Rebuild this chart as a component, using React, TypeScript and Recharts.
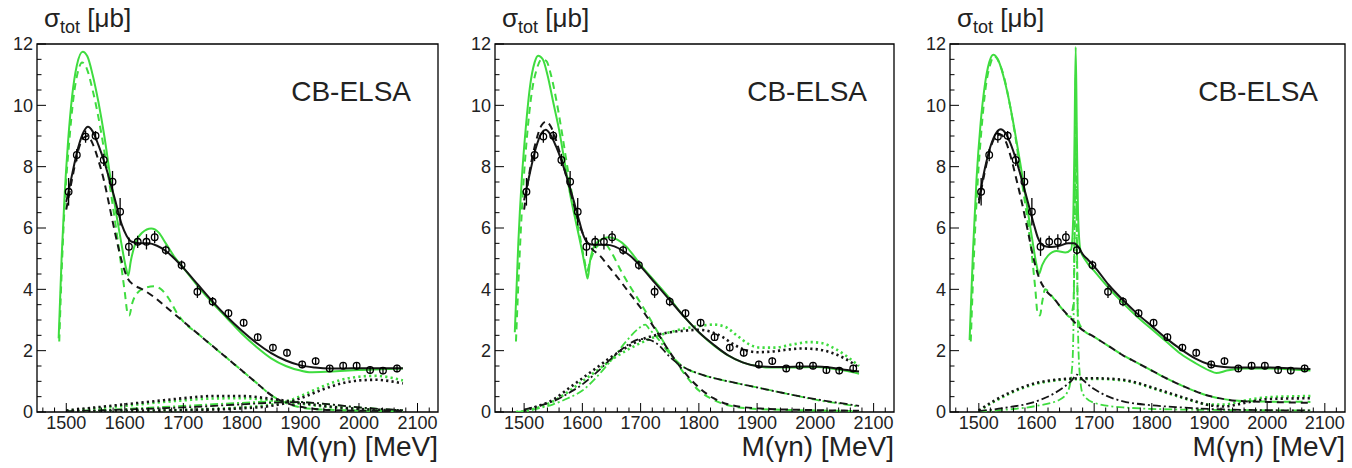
import React from "react";
import {
  ComposedChart,
  Line,
  Scatter,
  ErrorBar,
  XAxis,
  YAxis,
  ReferenceArea,
} from "recharts";

type Pt = [number, number];

// axes
const xMin = 1450;
const xMax = 2135;
const xMajorLabels = [1500, 1600, 1700, 1800, 1900, 2000, 2100];
const xMinorTicks = [
  1460, 1480, 1500, 1520, 1540, 1560, 1580, 1600, 1620, 1640, 1660, 1680, 1700,
  1720, 1740, 1760, 1780, 1800, 1820, 1840, 1860, 1880, 1900, 1920, 1940, 1960,
  1980, 2000, 2020, 2040, 2060, 2080, 2100, 2120,
];
const yMajorLabels = [0, 2, 4, 6, 8, 10, 12];
const yMinorTicks = [
  0, 0.5, 1, 1.5, 2, 2.5, 3, 3.5, 4, 4.5, 5, 5.5, 6, 6.5, 7, 7.5, 8, 8.5, 9,
  9.5, 10, 10.5, 11, 11.5, 12,
];

// CB-ELSA data points (same in every panel)
const dataMass = [
  1504, 1518, 1533, 1550, 1564, 1579, 1592, 1607, 1622, 1637, 1651, 1670, 1697,
  1724, 1750, 1777, 1803, 1827, 1853, 1877, 1903, 1926, 1950, 1973, 1996, 2019,
  2041, 2065,
];
const dataSigma = [
  7.18, 8.38, 8.98, 9.01, 8.22, 7.51, 6.53, 5.39, 5.55, 5.55, 5.7, 5.28, 4.79,
  3.92, 3.6, 3.22, 2.91, 2.44, 2.1, 1.93, 1.55, 1.66, 1.42, 1.51, 1.51, 1.37,
  1.35, 1.42,
];
const dataErr = [
  0.45, 0.2, 0.2, 0.15, 0.2, 0.35, 0.45, 0.3, 0.2, 0.25, 0.2, 0.15, 0.15, 0.2,
  0.15, 0.12, 0.12, 0.12, 0.12, 0.12, 0.12, 0.12, 0.1, 0.1, 0.12, 0.12, 0.12,
  0.12,
];

// ---- panel 1 ----
const p1BlackSolid: Pt[] = [
  [1500, 6.85], [1510, 7.75], [1520, 8.6], [1530, 9.15], [1537, 9.3], [1545, 9.15],
  [1555, 8.7], [1565, 8.15], [1575, 7.5], [1585, 6.8], [1595, 6.1], [1603, 5.75],
  [1612, 5.55], [1625, 5.5], [1640, 5.5], [1655, 5.42], [1670, 5.25], [1685, 5.0],
  [1700, 4.7], [1725, 4.15], [1750, 3.6], [1775, 3.1], [1800, 2.65], [1825, 2.25],
  [1850, 1.92], [1875, 1.68], [1900, 1.52], [1925, 1.45], [1950, 1.42], [1975, 1.42],
  [2000, 1.43], [2025, 1.43], [2050, 1.43], [2075, 1.43],
];
const p1GreenSolid: Pt[] = [
  [1487, 2.4], [1492, 5.0], [1497, 7.0], [1503, 8.8], [1510, 10.3], [1518, 11.3],
  [1528, 11.75], [1536, 11.6], [1545, 11.0], [1555, 10.1], [1565, 9.0], [1575, 7.7],
  [1585, 6.5], [1595, 5.4], [1602, 4.7], [1606, 4.45], [1610, 4.9], [1618, 5.5],
  [1630, 5.85], [1645, 5.98], [1658, 5.85], [1670, 5.5], [1685, 5.05], [1700, 4.7],
  [1725, 4.1], [1750, 3.55], [1775, 3.05], [1800, 2.55], [1825, 2.12], [1850, 1.75],
  [1875, 1.5], [1900, 1.35], [1915, 1.3], [1950, 1.32], [2000, 1.37], [2050, 1.4],
  [2075, 1.42],
];
const p1BlackDashed: Pt[] = [
  [1500, 6.6], [1510, 7.6], [1520, 8.5], [1530, 8.95], [1537, 9.0], [1545, 8.75],
  [1555, 8.2], [1565, 7.5], [1575, 6.6], [1585, 5.7], [1595, 4.9], [1605, 4.35],
  [1615, 4.15], [1630, 4.0], [1650, 3.75], [1675, 3.35], [1700, 2.95], [1725, 2.55],
  [1750, 2.15], [1775, 1.75], [1800, 1.35], [1825, 0.95], [1850, 0.55], [1875, 0.3],
  [1900, 0.17], [1925, 0.1], [1975, 0.05], [2075, 0.03],
];
const p1GreenDashed: Pt[] = [
  [1488, 2.3], [1493, 5.0], [1498, 7.0], [1505, 8.8], [1512, 10.2], [1520, 11.1],
  [1527, 11.4], [1535, 11.2], [1545, 10.5], [1555, 9.6], [1565, 8.5], [1575, 7.3],
  [1585, 6.0], [1593, 4.9], [1600, 3.9], [1605, 3.2], [1608, 3.15], [1612, 3.5],
  [1620, 3.85], [1635, 4.05], [1650, 4.1], [1662, 4.0], [1675, 3.7], [1690, 3.2],
  [1700, 2.95], [1725, 2.55], [1750, 2.15], [1775, 1.75], [1800, 1.35], [1825, 0.95],
  [1850, 0.55], [1875, 0.3], [1900, 0.15], [1950, 0.07], [2075, 0.03],
];
const p1BlackDotRise: Pt[] = [
  [1500, 0.02], [1600, 0.03], [1700, 0.06], [1800, 0.12], [1850, 0.2], [1880, 0.32],
  [1910, 0.52], [1940, 0.75], [1970, 0.93], [2000, 1.03], [2030, 1.05], [2055, 1.0],
  [2075, 0.93],
];
const p1GreenDotRise: Pt[] = [
  [1500, 0.02], [1600, 0.03], [1700, 0.07], [1800, 0.15], [1850, 0.24], [1880, 0.37],
  [1910, 0.6], [1940, 0.85], [1970, 1.05], [2000, 1.15], [2030, 1.18], [2055, 1.12],
  [2075, 1.03],
];
const p1BlackDotBroad: Pt[] = [
  [1500, 0.05], [1550, 0.15], [1600, 0.25], [1650, 0.35], [1700, 0.45], [1750, 0.52],
  [1800, 0.52], [1850, 0.43], [1900, 0.3], [1950, 0.18], [2000, 0.1], [2075, 0.05],
];
const p1GreenDotBroad: Pt[] = [
  [1500, 0.04], [1550, 0.12], [1600, 0.2], [1650, 0.3], [1700, 0.38], [1750, 0.44],
  [1800, 0.45], [1850, 0.38], [1900, 0.27], [1950, 0.16], [2000, 0.09], [2075, 0.04],
];
const p1BlackDashDot: Pt[] = [
  [1500, 0.02], [1600, 0.08], [1700, 0.15], [1800, 0.25], [1850, 0.3], [1900, 0.32],
  [1950, 0.25], [2000, 0.15], [2075, 0.06],
];
const p1GreenDashDot: Pt[] = [
  [1500, 0.02], [1600, 0.1], [1700, 0.2], [1800, 0.3], [1870, 0.35], [1920, 0.3],
  [2000, 0.15], [2075, 0.05],
];

// ---- panel 2 ----
const p2BlackSolid: Pt[] = [
  [1500, 6.9], [1510, 7.8], [1520, 8.6], [1530, 9.1], [1537, 9.2], [1545, 9.05],
  [1555, 8.65], [1565, 8.15], [1575, 7.55], [1585, 6.9], [1595, 6.2], [1603, 5.7],
  [1610, 5.5], [1620, 5.45], [1640, 5.45], [1655, 5.4], [1670, 5.25], [1685, 5.05],
  [1700, 4.75], [1725, 4.2], [1750, 3.65], [1775, 3.1], [1800, 2.6], [1825, 2.2],
  [1850, 1.85], [1875, 1.62], [1900, 1.5], [1925, 1.47], [1950, 1.47], [1975, 1.48],
  [2000, 1.48], [2025, 1.45], [2050, 1.38], [2075, 1.32],
];
const p2GreenSolid: Pt[] = [
  [1484, 2.6], [1490, 5.5], [1496, 7.6], [1503, 9.3], [1510, 10.6], [1518, 11.4],
  [1524, 11.62], [1532, 11.5], [1540, 11.0], [1550, 10.1], [1560, 9.2], [1570, 8.1],
  [1580, 7.0], [1590, 6.1], [1600, 5.2], [1606, 4.6], [1609, 4.35], [1613, 4.9],
  [1620, 5.4], [1630, 5.6], [1645, 5.7], [1660, 5.62], [1675, 5.4], [1690, 5.05],
  [1700, 4.8], [1725, 4.25], [1750, 3.7], [1775, 3.1], [1800, 2.6], [1825, 2.18],
  [1850, 1.85], [1875, 1.62], [1900, 1.5], [1920, 1.45], [1950, 1.45], [2000, 1.47],
  [2025, 1.43], [2050, 1.35], [2075, 1.25],
];
const p2BlackDashed: Pt[] = [
  [1500, 6.6], [1510, 7.9], [1520, 8.8], [1530, 9.35], [1538, 9.47], [1546, 9.3],
  [1555, 8.85], [1565, 8.2], [1575, 7.5], [1585, 6.8], [1595, 6.1], [1605, 5.65],
  [1615, 5.35], [1630, 5.1], [1645, 4.75], [1660, 4.4], [1680, 3.9], [1700, 3.4],
  [1725, 2.7], [1750, 1.95], [1775, 1.3], [1800, 0.8], [1825, 0.45], [1850, 0.25],
  [1900, 0.12], [2000, 0.06], [2075, 0.04],
];
const p2GreenDashed: Pt[] = [
  [1486, 2.3], [1492, 5.0], [1498, 7.2], [1505, 9.0], [1513, 10.4], [1522, 11.2],
  [1530, 11.5], [1538, 11.45], [1546, 11.0], [1555, 10.2], [1565, 9.1], [1575, 7.9],
  [1585, 6.8], [1595, 5.8], [1603, 5.0], [1608, 4.6], [1613, 4.9], [1620, 5.25],
  [1630, 5.45], [1640, 5.45], [1650, 5.2], [1665, 4.65], [1680, 4.15], [1700, 3.55],
  [1725, 2.75], [1750, 1.95], [1775, 1.25], [1800, 0.7], [1825, 0.4], [1850, 0.22],
  [1900, 0.1], [2000, 0.05], [2075, 0.03],
];
const p2BlackDashDot: Pt[] = [
  [1500, 0.08], [1525, 0.2], [1550, 0.35], [1575, 0.6], [1600, 0.9], [1625, 1.3],
  [1650, 1.75], [1675, 2.15], [1700, 2.38], [1715, 2.35], [1730, 2.2], [1750, 1.8],
  [1775, 1.45], [1800, 1.25], [1850, 1.0], [1900, 0.8], [1950, 0.6], [2000, 0.42],
  [2050, 0.27], [2075, 0.2],
];
const p2GreenDashDot: Pt[] = [
  [1486, 0.0], [1500, 0.03], [1525, 0.12], [1550, 0.25], [1575, 0.45], [1600, 0.7],
  [1625, 1.15], [1650, 1.7], [1675, 2.3], [1695, 2.7], [1708, 2.85], [1715, 2.7],
  [1725, 2.5], [1750, 1.9], [1775, 1.45], [1800, 1.25], [1850, 1.0], [1900, 0.8],
  [1950, 0.6], [2000, 0.4], [2050, 0.25], [2075, 0.18],
];
const p2BlackDotted: Pt[] = [
  [1500, 0.05], [1525, 0.2], [1550, 0.4], [1575, 0.75], [1600, 1.1], [1625, 1.45],
  [1650, 1.8], [1675, 2.1], [1700, 2.35], [1725, 2.5], [1750, 2.6], [1775, 2.65],
  [1800, 2.68], [1820, 2.62], [1840, 2.45], [1860, 2.2], [1880, 2.02], [1900, 1.95],
  [1925, 1.97], [1950, 2.03], [1975, 2.07], [2000, 2.05], [2025, 1.95], [2050, 1.75],
  [2075, 1.45],
];
const p2GreenDotted: Pt[] = [
  [1486, 0.0], [1500, 0.03], [1525, 0.15], [1550, 0.35], [1575, 0.65], [1600, 1.0],
  [1625, 1.35], [1650, 1.7], [1675, 2.0], [1700, 2.25], [1725, 2.45], [1750, 2.6],
  [1775, 2.72], [1800, 2.8], [1825, 2.85], [1845, 2.78], [1865, 2.5], [1885, 2.22],
  [1905, 2.1], [1930, 2.1], [1960, 2.2], [1990, 2.28], [2010, 2.25], [2035, 2.05],
  [2055, 1.8], [2075, 1.5],
];

// ---- panel 3 ----
const p3BlackSolid: Pt[] = [
  [1500, 6.9], [1510, 7.9], [1520, 8.65], [1530, 9.1], [1538, 9.22], [1546, 9.1],
  [1555, 8.75], [1565, 8.2], [1575, 7.55], [1585, 6.85], [1595, 6.15], [1603, 5.65],
  [1612, 5.42], [1625, 5.38], [1640, 5.42], [1655, 5.5], [1665, 5.5], [1672, 5.4],
  [1680, 5.15], [1690, 4.95], [1700, 4.75], [1725, 4.15], [1750, 3.65], [1775, 3.2],
  [1800, 2.8], [1825, 2.4], [1850, 2.05], [1875, 1.75], [1900, 1.55], [1925, 1.47],
  [1950, 1.45], [2000, 1.45], [2050, 1.42], [2075, 1.4],
];
const p3GreenSolid: Pt[] = [
  [1484, 2.35], [1490, 5.3], [1496, 7.6], [1503, 9.4], [1510, 10.6], [1518, 11.4],
  [1525, 11.65], [1533, 11.5], [1542, 11.0], [1552, 10.2], [1562, 9.2], [1572, 8.1],
  [1582, 6.9], [1592, 5.7], [1600, 4.8], [1604, 4.5], [1610, 4.8], [1620, 5.1],
  [1635, 5.25], [1650, 5.2], [1660, 5.3], [1664, 6.5], [1666, 9.0], [1668, 11.9],
  [1670, 9.0], [1672, 6.5], [1676, 5.3], [1685, 4.95], [1700, 4.6], [1725, 4.05],
  [1750, 3.55], [1775, 3.1], [1800, 2.7], [1825, 2.3], [1850, 1.9], [1875, 1.6],
  [1900, 1.35], [1912, 1.27], [1930, 1.35], [1960, 1.42], [2000, 1.42], [2050, 1.38],
  [2075, 1.35],
];
const p3BlackDashed: Pt[] = [
  [1500, 6.8], [1510, 7.8], [1520, 8.6], [1530, 9.0], [1538, 9.05], [1546, 8.85],
  [1555, 8.35], [1565, 7.6], [1575, 6.8], [1585, 5.9], [1595, 5.0], [1605, 4.35],
  [1615, 4.0], [1630, 3.7], [1645, 3.35], [1660, 3.05], [1675, 2.75], [1700, 2.45],
  [1725, 2.15], [1750, 1.85], [1775, 1.6], [1800, 1.35], [1825, 1.1], [1850, 0.88],
  [1875, 0.68], [1900, 0.52], [1925, 0.42], [1950, 0.36], [2000, 0.33], [2075, 0.3],
];
const p3GreenDashed: Pt[] = [
  [1486, 2.3], [1492, 5.3], [1498, 7.5], [1505, 9.3], [1512, 10.6], [1520, 11.35],
  [1527, 11.6], [1535, 11.4], [1544, 10.9], [1554, 10.0], [1564, 8.9], [1574, 7.6],
  [1584, 6.3], [1592, 5.1], [1598, 4.0], [1602, 3.2], [1606, 3.15], [1610, 3.6],
  [1615, 4.0], [1630, 3.7], [1645, 3.35], [1658, 3.1], [1664, 3.5], [1666, 5.5],
  [1668, 9.0], [1670, 5.5], [1672, 3.0], [1680, 2.7], [1700, 2.45], [1725, 2.15],
  [1750, 1.85], [1775, 1.6], [1800, 1.35], [1825, 1.1], [1850, 0.88], [1875, 0.68],
  [1900, 0.52], [1925, 0.42], [1950, 0.37], [2000, 0.34], [2075, 0.33],
];
const p3BlackDashDot: Pt[] = [
  [1500, 0.03], [1550, 0.15], [1600, 0.35], [1630, 0.6], [1650, 0.85], [1662, 1.05],
  [1670, 1.22], [1680, 1.05], [1700, 0.75], [1725, 0.5], [1750, 0.35], [1800, 0.22],
  [1850, 0.15], [1900, 0.1], [2000, 0.06], [2075, 0.05],
];
const p3GreenDashDot: Pt[] = [
  [1500, 0.02], [1550, 0.08], [1600, 0.2], [1640, 0.4], [1655, 0.7], [1662, 1.5],
  [1665, 4.0], [1667, 9.0], [1668, 11.0], [1669, 9.0], [1671, 4.0], [1674, 1.5],
  [1680, 0.6], [1700, 0.3], [1750, 0.15], [1850, 0.08], [2075, 0.05],
];
const p3BlackDotted: Pt[] = [
  [1500, 0.05], [1525, 0.35], [1550, 0.6], [1575, 0.8], [1600, 0.95], [1625, 1.03],
  [1650, 1.08], [1700, 1.1], [1750, 1.05], [1775, 0.95], [1800, 0.8], [1825, 0.65],
  [1850, 0.5], [1875, 0.35], [1900, 0.22], [1925, 0.18], [1950, 0.25], [1975, 0.35],
  [2000, 0.42], [2075, 0.45],
];
const p3GreenDotted: Pt[] = [
  [1500, 0.04], [1525, 0.32], [1550, 0.57], [1575, 0.77], [1600, 0.92], [1625, 1.01],
  [1650, 1.06], [1700, 1.08], [1750, 1.03], [1775, 0.93], [1800, 0.78], [1825, 0.63],
  [1850, 0.48], [1875, 0.34], [1900, 0.24], [1925, 0.24], [1950, 0.33], [1975, 0.42],
  [2000, 0.48], [2075, 0.52],
];

const GREEN = "#3fdc3f";
const BLACK = "#161616";
const FONT = '"Liberation Sans", Arial, Helvetica, sans-serif';

const lineStyles = {
  solid: { width: 2, dash: undefined as string | undefined },
  dashed: { width: 2, dash: "7 5" },
  dotted: { width: 2.6, dash: "2.2 3.2" },
  dashDot: { width: 1.8, dash: "8 3 2 3" },
};

type Curve = { pts: Pt[]; color: string; kind: keyof typeof lineStyles };

const panels: { left: number; plotWidth: number; curves: Curve[] }[] = [
  {
    left: 0,
    plotWidth: 401,
    curves: [
      { pts: p1GreenDashDot, color: GREEN, kind: "dashDot" },
      { pts: p1GreenDotBroad, color: GREEN, kind: "dotted" },
      { pts: p1GreenDotRise, color: GREEN, kind: "dotted" },
      { pts: p1GreenDashed, color: GREEN, kind: "dashed" },
      { pts: p1GreenSolid, color: GREEN, kind: "solid" },
      { pts: p1BlackDashDot, color: BLACK, kind: "dashDot" },
      { pts: p1BlackDotBroad, color: BLACK, kind: "dotted" },
      { pts: p1BlackDotRise, color: BLACK, kind: "dotted" },
      { pts: p1BlackDashed, color: BLACK, kind: "dashed" },
      { pts: p1BlackSolid, color: BLACK, kind: "solid" },
    ],
  },
  {
    left: 458,
    plotWidth: 399,
    curves: [
      { pts: p2GreenDotted, color: GREEN, kind: "dotted" },
      { pts: p2GreenDashDot, color: GREEN, kind: "dashDot" },
      { pts: p2GreenDashed, color: GREEN, kind: "dashed" },
      { pts: p2GreenSolid, color: GREEN, kind: "solid" },
      { pts: p2BlackDotted, color: BLACK, kind: "dotted" },
      { pts: p2BlackDashDot, color: BLACK, kind: "dashDot" },
      { pts: p2BlackDashed, color: BLACK, kind: "dashed" },
      { pts: p2BlackSolid, color: BLACK, kind: "solid" },
    ],
  },
  {
    left: 913,
    plotWidth: 395,
    curves: [
      { pts: p3GreenDotted, color: GREEN, kind: "dotted" },
      { pts: p3GreenDashDot, color: GREEN, kind: "dashDot" },
      { pts: p3GreenDashed, color: GREEN, kind: "dashed" },
      { pts: p3GreenSolid, color: GREEN, kind: "solid" },
      { pts: p3BlackDotted, color: BLACK, kind: "dotted" },
      { pts: p3BlackDashDot, color: BLACK, kind: "dashDot" },
      { pts: p3BlackDashed, color: BLACK, kind: "dashed" },
      { pts: p3BlackSolid, color: BLACK, kind: "solid" },
    ],
  },
];

const measured = dataMass.map((x, i) => ({ x, y: dataSigma[i], err: dataErr[i] }));

const PLOT_LEFT = 37;
const PLOT_TOP = 44;
const PLOT_BOTTOM = 412;
const CHART_H = 468;

// ROOT style: ticks drawn inside the frame
function XTick(props: any) {
  const { x, y, payload } = props;
  const v = payload.value as number;
  const major = xMajorLabels.includes(v);
  return (
    <g>
      <line x1={x} x2={x} y1={y} y2={y - (major ? 9 : 4.5)} stroke="#000" strokeWidth={1} />
      {major && (
        <text x={x} y={y + 17} textAnchor="middle" fontSize={18} fontFamily={FONT} fill="#222">
          {v}
        </text>
      )}
    </g>
  );
}

function YTick(props: any) {
  const { x, y, payload } = props;
  const v = payload.value as number;
  const major = yMajorLabels.includes(v);
  return (
    <g>
      <line x1={x} x2={x + (major ? 9 : 4.5)} y1={y} y2={y} stroke="#000" strokeWidth={1} />
      {major && (
        <text x={x - 4} y={y} dy="0.36em" textAnchor="end" fontSize={18} fontFamily={FONT} fill="#222">
          {v}
        </text>
      )}
    </g>
  );
}

function OpenCircle(props: any) {
  const { cx, cy } = props;
  return <circle cx={cx} cy={cy} r={3.3} fill="none" stroke="#000" strokeWidth={1.3} />;
}

function Panel({ left, plotWidth, curves }: { left: number; plotWidth: number; curves: Curve[] }) {
  const rightPad = 10;
  const chartW = PLOT_LEFT + plotWidth + rightPad;
  const frameRight = PLOT_LEFT + plotWidth;
  return (
    <div style={{ position: "absolute", left, top: 0, width: chartW, height: CHART_H }}>
      <ComposedChart
        width={chartW}
        height={CHART_H}
        margin={{ top: PLOT_TOP, right: rightPad, bottom: CHART_H - PLOT_BOTTOM - 30, left: PLOT_LEFT - 30 }}
      >
        <XAxis
          type="number"
          dataKey="x"
          domain={[xMin, xMax]}
          allowDataOverflow
          ticks={xMinorTicks}
          interval={0}
          tick={(p: any) => <XTick {...p} />}
          tickLine={false}
          axisLine={false}
          tickSize={0}
          tickMargin={0}
          height={30}
        />
        <YAxis
          type="number"
          dataKey="y"
          domain={[0, 12]}
          allowDataOverflow
          ticks={yMinorTicks}
          interval={0}
          tick={(p: any) => <YTick {...p} />}
          tickLine={false}
          axisLine={false}
          tickSize={0}
          tickMargin={0}
          width={30}
        />
        <ReferenceArea
          x1={xMin}
          x2={xMax}
          y1={0}
          y2={12}
          fill="none"
          fillOpacity={0}
          stroke="#000"
          strokeWidth={1.3}
          ifOverflow="visible"
        />
        {curves.map((c, i) => (
          <Line
            key={i}
            data={c.pts.map(([x, y]) => ({ x, y }))}
            dataKey="y"
            type="monotone"
            stroke={c.color}
            strokeWidth={lineStyles[c.kind].width}
            strokeDasharray={lineStyles[c.kind].dash}
            dot={false}
            activeDot={false}
            isAnimationActive={false}
          />
        ))}
        <Scatter data={measured} dataKey="y" shape={OpenCircle} isAnimationActive={false}>
          <ErrorBar dataKey="err" direction="y" width={0} stroke="#000" strokeWidth={1.3} />
        </Scatter>
      </ComposedChart>

      <div
        style={{
          position: "absolute",
          left: PLOT_LEFT + 7,
          top: 5,
          fontFamily: FONT,
          fontSize: 26,
          lineHeight: "26px",
          color: "#222",
          whiteSpace: "nowrap",
        }}
      >
        σ<span style={{ fontSize: 18, position: "relative", top: 6 }}>tot</span> [μb]
      </div>
      <div
        style={{
          position: "absolute",
          left: 0,
          width: frameRight - 27,
          top: 78,
          textAlign: "right",
          fontFamily: FONT,
          fontSize: 28,
          lineHeight: "28px",
          color: "#222",
          whiteSpace: "nowrap",
        }}
      >
        CB-ELSA
      </div>
      <div
        style={{
          position: "absolute",
          left: 0,
          width: frameRight,
          top: 433,
          textAlign: "right",
          fontFamily: FONT,
          fontSize: 28,
          lineHeight: "28px",
          color: "#222",
          whiteSpace: "nowrap",
        }}
      >
        M(γn) [MeV]
      </div>
    </div>
  );
}

export default function App() {
  return (
    <div
      style={{
        position: "absolute",
        left: 0,
        top: 0,
        width: 1352,
        height: 468,
        background: "#fff",
        overflow: "hidden",
      }}
    >
      {panels.map((p, i) => (
        <Panel key={i} left={p.left} plotWidth={p.plotWidth} curves={p.curves} />
      ))}
    </div>
  );
}
